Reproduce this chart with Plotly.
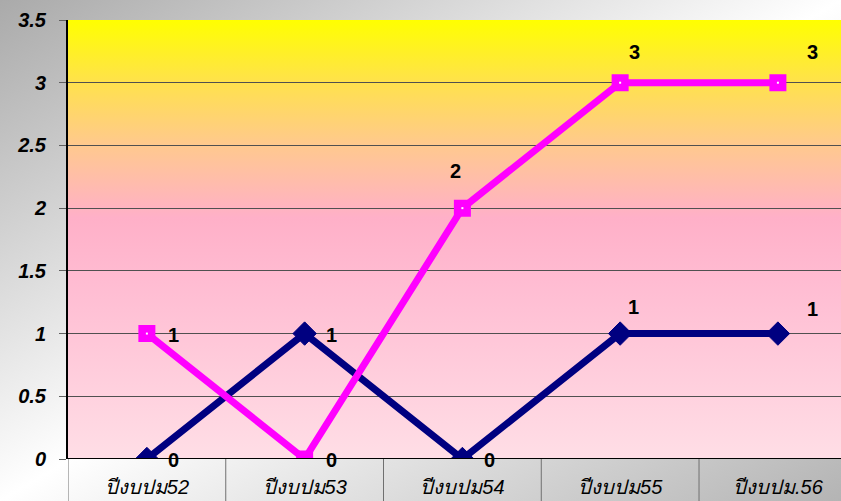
import base64
import plotly.graph_objects as go

categories = ["ปีงบปม52", "ปีงบปม53", "ปีงบปม54", "ปีงบปม55", "ปีงบปม.56"]
navy_values = [0, 1, 0, 1, 1]
magenta_values = [1, 0, 2, 3, 3]
y_ticks = [0, 0.5, 1, 1.5, 2, 2.5, 3, 3.5]
y_tick_labels = ["0", "0.5", "1", "1.5", "2", "2.5", "3", "3.5"]

# label offsets (pixels) for the data labels
navy_label_dx = [27, 27, 27, 13, 35]
navy_label_dy = [-1, -1, -1, 27, 25]
mag_label_dx = [27, 27, -7, 14, 35]
mag_label_dy = [-1, -1, 37, 31, 31]

W, H = 841, 501
ML, MR, MT, MB = 68, 0, 20, 42
PW, PH = W - ML - MR, H - MT - MB


def svg_uri(svg):
    return "data:image/svg+xml;base64," + base64.b64encode(svg.encode()).decode()


paper_svg = """<svg xmlns='http://www.w3.org/2000/svg' width='841' height='501' viewBox='0 0 841 501' preserveAspectRatio='none'>
<defs><linearGradient id='g' x1='0' y1='0' x2='1' y2='1'>
<stop offset='0' stop-color='#aaaaaa'/>
<stop offset='0.5' stop-color='#ffffff'/>
<stop offset='1' stop-color='#b4b4b4'/>
</linearGradient></defs>
<rect width='841' height='501' fill='url(#g)'/></svg>"""

plot_svg = """<svg xmlns='http://www.w3.org/2000/svg' width='100' height='100' viewBox='0 0 100 100' preserveAspectRatio='none'>
<defs><linearGradient id='p' x1='0' y1='0' x2='0' y2='1'>
<stop offset='0' stop-color='#ffff00'/>
<stop offset='0.15' stop-color='#ffe050'/>
<stop offset='0.29' stop-color='#ffc890'/>
<stop offset='0.45' stop-color='#ffb0c8'/>
<stop offset='0.6' stop-color='#ffbcd2'/>
<stop offset='1' stop-color='#ffdee6'/>
</linearGradient></defs>
<rect width='100' height='100' fill='url(#p)'/></svg>"""

x_idx = list(range(len(categories)))

fig = go.Figure()

fig.add_trace(go.Scatter(
    x=x_idx, y=navy_values, mode="lines+markers",
    line=dict(color="#000080", width=7),
    marker=dict(symbol="diamond", size=18, color="#000080",
                line=dict(color="#000080", width=1)),
    showlegend=False, hoverinfo="skip"))

fig.add_trace(go.Scatter(
    x=x_idx, y=magenta_values, mode="lines+markers",
    line=dict(color="#ff00ff", width=7),
    marker=dict(symbol="square", size=14, color="#ff00ff",
                line=dict(color="#ff00ff", width=3)),
    showlegend=False, hoverinfo="skip"))

fig.add_trace(go.Scatter(
    x=x_idx, y=magenta_values, mode="markers",
    marker=dict(symbol="square", size=2, color="white", line=dict(width=0)),
    showlegend=False, hoverinfo="skip"))

label_font = dict(family="Liberation Sans, Arial", size=20, color="black")
annotations = []
for i, v in enumerate(navy_values):
    annotations.append(dict(x=i, y=v, text="<b>%d</b>" % v, showarrow=False,
                            xshift=navy_label_dx[i], yshift=navy_label_dy[i],
                            font=label_font, xanchor="center", yanchor="middle"))
for i, v in enumerate(magenta_values):
    annotations.append(dict(x=i, y=v, text="<b>%d</b>" % v, showarrow=False,
                            xshift=mag_label_dx[i], yshift=mag_label_dy[i],
                            font=label_font, xanchor="center", yanchor="middle"))

shapes = []
for k in range(len(categories) + 1):
    shapes.append(dict(type="line", xref="x", yref="paper",
                       x0=k - 0.5, x1=k - 0.5, y0=-MB / PH, y1=0,
                       line=dict(color="#707070", width=1), layer="above"))
shapes.append(dict(type="line", xref="paper", yref="y", x0=0, x1=1, y0=0, y1=0,
                   line=dict(color="black", width=2), layer="above"))

fig.update_layout(
    width=W, height=H,
    margin=dict(l=ML, r=MR, t=MT, b=MB, pad=0),
    paper_bgcolor="white",
    plot_bgcolor="rgba(0,0,0,0)",
    images=[
        dict(source=svg_uri(paper_svg), xref="paper", yref="paper",
             x=-ML / PW, y=1 + MT / PH, sizex=W / PW, sizey=H / PH,
             sizing="stretch", xanchor="left", yanchor="top", layer="below"),
        dict(source=svg_uri(plot_svg), xref="paper", yref="paper",
             x=0, y=1, sizex=1, sizey=1,
             sizing="stretch", xanchor="left", yanchor="top", layer="below"),
    ],
    annotations=annotations,
    shapes=shapes,
    xaxis=dict(
        range=[-0.5, 4.4], tickmode="array", tickvals=x_idx, ticktext=categories,
        showgrid=False, zeroline=False, showline=False, ticks="",
        tickfont=dict(family="Liberation Sans, Noto Sans, sans-serif", size=20,
                      color="black", style="italic"),
        ticklabelstandoff=14,
    ),
    yaxis=dict(
        range=[0, 3.5], tickmode="array", tickvals=y_ticks, ticktext=y_tick_labels,
        showgrid=True, gridcolor="#505050", gridwidth=1,
        zeroline=False, showline=True, linecolor="black", linewidth=2,
        ticks="outside", ticklen=7, tickcolor="#606060",
        tickfont=dict(family="Liberation Sans, Arial", size=20, color="black",
                      style="italic", weight="bold"),
        ticklabelstandoff=9,
    ),
)

fig.write_html("out.html", config={"displayModeBar": False},
               post_script="document.body.style.margin='0';document.body.style.overflow='hidden';")
